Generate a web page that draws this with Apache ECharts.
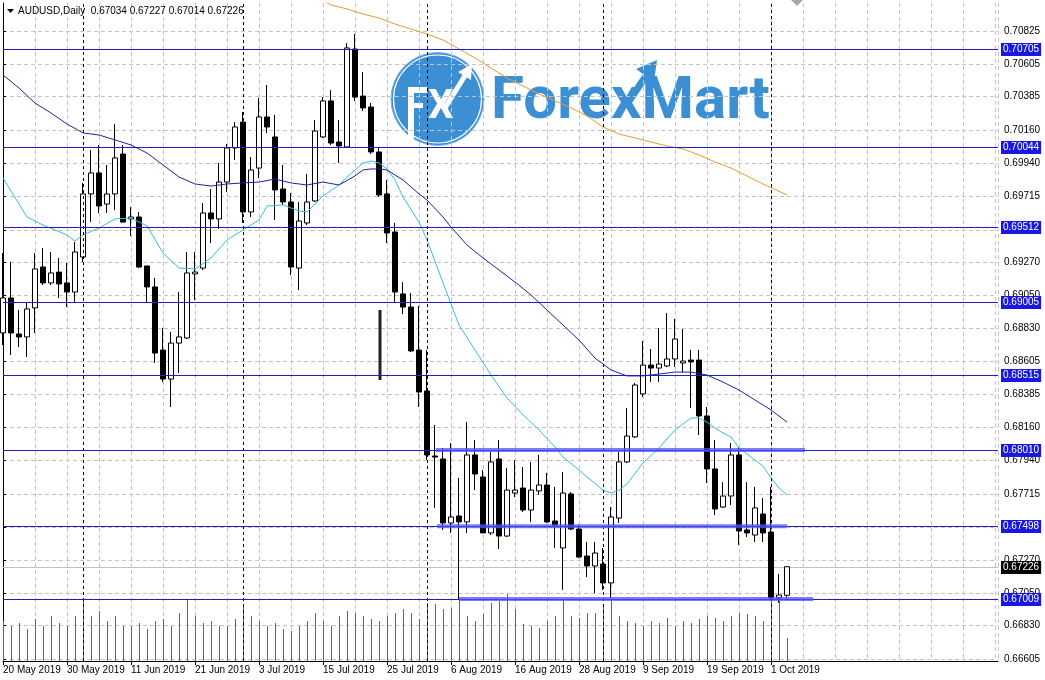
<!DOCTYPE html>
<html><head><meta charset="utf-8">
<script src="https://cdn.jsdelivr.net/npm/echarts@6/dist/echarts.min.js"></script>
<style>html,body{margin:0;padding:0;background:#fff}#c{width:1045px;height:680px}</style>
</head><body><div id="c"></div><script>
// ---- data ----
const symbolTitle = 'AUDUSD,Daily';
const dateLabels = ['20 May 2019','30 May 2019','11 Jun 2019','21 Jun 2019','3 Jul 2019','15 Jul 2019','25 Jul 2019','6 Aug 2019','16 Aug 2019','28 Aug 2019','9 Sep 2019','19 Sep 2019','1 Oct 2019'];
const dateLabelIdx = [0,8,16,24,32,40,48,56,64,72,80,88,96];
const periodStartIdx = [10,30,53,75,96];
const priceTicks = [0.70825,0.70605,0.70385,0.70160,0.69940,0.69715,0.69490,0.69270,0.69050,0.68830,0.68605,0.68385,0.68160,0.67940,0.67715,0.67490,0.67270,0.67050,0.66830,0.66605];
const levelPrices = [0.70705,0.70044,0.69512,0.69005,0.68515,0.68010,0.67498,0.67009];
const trendLevels = [0.68010,0.67498,0.67009];
const trendStart = [54.1,54.25,57.0];
const trendEnd = [100.25,98.0,101.25];

const opens = [0.68797,0.69032,0.68790,0.68770,0.68965,0.69240,0.69133,0.69206,0.69133,0.69072,
0.69307,0.69731,0.69872,0.69663,0.69731,0.69999,0.69563,0.69576,0.69247,0.69106,
0.68682,0.68487,0.68729,0.68763,0.69193,0.69233,0.69603,0.69563,0.69811,0.70040,
0.70214,0.69610,0.69905,0.70248,0.70114,0.69764,0.69677,0.69233,0.69536,0.69684,
0.70114,0.70356,0.70080,0.70047,0.70705,0.70389,0.70315,0.70013,0.69731,0.69475,
0.69059,0.68971,0.68682,0.68407,0.67970,0.67950,0.67520,0.67567,0.67527,0.67977,
0.67829,0.67453,0.67950,0.67432,0.67721,0.67755,0.67607,0.67735,0.67775,0.67533,
0.67352,0.67715,0.67479,0.67298,0.67231,0.67244,0.67117,0.67553,0.67930,0.68098,
0.68387,0.68581,0.68561,0.68575,0.68622,0.68595,0.68615,0.68615,0.68239,0.67883,
0.67627,0.67701,0.67977,0.67473,0.67439,0.67580,0.67459,0.67016,0.67034];
const highs = [0.69334,0.69274,0.68951,0.68998,0.69334,0.69368,0.69341,0.69301,0.69267,0.69408,
0.69805,0.70026,0.70060,0.69926,0.70201,0.70060,0.69643,0.69610,0.69247,0.69166,
0.68830,0.68803,0.69072,0.69341,0.69341,0.69670,0.69764,0.69939,0.70067,0.70214,
0.70282,0.69979,0.70376,0.70463,0.70262,0.69926,0.69737,0.69677,0.69865,0.70228,
0.70382,0.70429,0.70228,0.70745,0.70806,0.70550,0.70342,0.70047,0.69825,0.69536,
0.69139,0.69065,0.68978,0.68682,0.68178,0.68024,0.68057,0.67822,0.68198,0.68077,
0.67876,0.67997,0.68077,0.67889,0.67943,0.67896,0.67930,0.67977,0.67856,0.67762,
0.67862,0.67728,0.67506,0.67392,0.67392,0.67352,0.67627,0.67997,0.68293,0.68461,
0.68743,0.68689,0.68830,0.68931,0.68891,0.68823,0.68682,0.68682,0.68299,0.68077,
0.67795,0.68057,0.68030,0.67795,0.67762,0.67688,0.67762,0.67177,0.67227];
const lows = [0.68716,0.68649,0.68702,0.68635,0.68797,0.69119,0.69119,0.69032,0.68971,0.69005,
0.69274,0.69542,0.69603,0.69603,0.69623,0.69542,0.69448,0.69233,0.68998,0.68595,
0.68467,0.68299,0.68528,0.68756,0.69018,0.69220,0.69401,0.69495,0.69744,0.69959,
0.69536,0.69576,0.69838,0.70141,0.69556,0.69657,0.69186,0.69085,0.69522,0.69677,
0.70107,0.70060,0.69939,0.70040,0.70356,0.70288,0.69999,0.69710,0.69401,0.69005,
0.68924,0.68669,0.68299,0.67943,0.67621,0.67473,0.67453,0.67002,0.67453,0.67741,
0.67453,0.67439,0.67345,0.67426,0.67694,0.67594,0.67527,0.67708,0.67520,0.67352,
0.67070,0.67473,0.67285,0.67157,0.67049,0.67070,0.67016,0.67520,0.67923,0.68091,
0.68366,0.68467,0.68467,0.68568,0.68568,0.68534,0.68293,0.68111,0.67789,0.67573,
0.67621,0.67641,0.67372,0.67426,0.67392,0.67392,0.67002,0.66982,0.67014];
const closes = [0.69032,0.68797,0.68770,0.68958,0.69227,0.69133,0.69200,0.69126,0.69072,0.69341,
0.69731,0.69872,0.69650,0.69731,0.69973,0.69542,0.69576,0.69240,0.69106,0.68662,
0.68487,0.68729,0.68770,0.69200,0.69206,0.69603,0.69563,0.69811,0.70040,0.70181,
0.69610,0.69892,0.70248,0.70181,0.69758,0.69677,0.69240,0.69549,0.69677,0.70154,
0.70356,0.70073,0.70053,0.70712,0.70382,0.70309,0.70013,0.69724,0.69469,0.69072,
0.68971,0.68676,0.68400,0.67977,0.67963,0.67520,0.67560,0.67527,0.67977,0.67849,
0.67453,0.67930,0.67432,0.67741,0.67741,0.67607,0.67741,0.67775,0.67527,0.67506,
0.67721,0.67479,0.67291,0.67231,0.67318,0.67117,0.67560,0.67930,0.68104,0.68447,
0.68581,0.68561,0.68588,0.68622,0.68756,0.68608,0.68602,0.68239,0.67883,0.67614,
0.67701,0.67977,0.67466,0.67453,0.67621,0.67453,0.67016,0.67036,0.67226];
const volumes = [40,35,38,32,42,35,45,38,35,45,
60,45,50,40,45,35,35,38,32,40,
42,35,48,62,45,38,40,35,35,42,
55,45,40,35,38,32,30,35,40,48,
40,35,45,50,48,45,42,40,45,48,
52,48,42,58,57,52,53,62,45,40,
47,58,60,67,52,37,35,33,40,45,
62,45,43,48,48,57,63,45,40,38,
35,40,38,43,35,40,38,42,45,43,
40,45,48,47,45,40,63,60,23];

const maFastIdx = [0,3,5,8,9,10,12,14,16,18,20,22,24,26,28,30,32,33,35,37,38,40,42,43,44,45,46,47,48,49,50,52,53,55,57,59,61,63,65,67,69,70,72,73,75,76,77,78,80,82,84,86,87,88,89,90,91,92,94,95,96,97,98];
const maFastVal = [0.69838,0.69576,0.69522,0.69455,0.69415,0.69455,0.69502,0.69563,0.69569,0.69516,0.69334,0.69233,0.69227,0.69301,0.69422,0.69489,0.69556,0.69650,0.69657,0.69616,0.69610,0.69717,0.69791,0.69845,0.69892,0.69939,0.69952,0.69939,0.69899,0.69825,0.69710,0.69542,0.69422,0.69133,0.68850,0.68682,0.68514,0.68360,0.68246,0.68145,0.68030,0.67963,0.67876,0.67829,0.67741,0.67721,0.67741,0.67782,0.67923,0.68024,0.68145,0.68225,0.68225,0.68198,0.68158,0.68125,0.68098,0.68024,0.67943,0.67903,0.67822,0.67755,0.67708];
const maMidIdx = [0,2,4,6,8,10,12,14,16,18,20,22,24,26,28,30,32,34,36,38,40,42,44,45,46,47,48,50,52,53,55,56,58,60,62,64,66,68,70,72,74,75,76,78,80,82,84,86,88,90,92,94,96,98];
const maMidVal = [0.70530,0.70443,0.70342,0.70275,0.70201,0.70141,0.70127,0.70094,0.70060,0.70006,0.69926,0.69845,0.69798,0.69784,0.69798,0.69805,0.69811,0.69831,0.69805,0.69791,0.69811,0.69791,0.69852,0.69892,0.69899,0.69899,0.69892,0.69825,0.69731,0.69690,0.69576,0.69509,0.69388,0.69301,0.69220,0.69139,0.69052,0.68951,0.68850,0.68749,0.68628,0.68588,0.68548,0.68508,0.68508,0.68521,0.68534,0.68534,0.68514,0.68467,0.68413,0.68346,0.68279,0.68198];
const maSlowIdx = [40,41,43,45,47,49,51,53,55,57,59,61,63,65,67,69,71,73,75,77,79,81,83,85,87,89,91,93,95,98];
const maSlowVal = [0.71030,0.71001,0.70974,0.70940,0.70913,0.70873,0.70839,0.70806,0.70765,0.70705,0.70645,0.70577,0.70510,0.70456,0.70403,0.70356,0.70309,0.70255,0.70181,0.70134,0.70107,0.70080,0.70053,0.70033,0.69993,0.69946,0.69905,0.69852,0.69798,0.69724];
const markerIdx = [47.125,47.125];
const markerVal = [0.68951,0.68481];

// ---- chart ----
const FONT = 'Liberation Sans';
const last = opens.length - 1;
const fmt = v => v.toFixed(5);
const chart = echarts.init(document.getElementById('c'));
const candleData = opens.map((o,i)=>[i,o,closes[i],lows[i],highs[i]]);
const GRID = {left:3, right:47, top:3, bottom:19};
const X0 = GRID.left, X1 = 1045 - GRID.right;

function levelRenderer(lineColor, boxColor){
  return (params, api)=>{
    const y = Math.round(api.coord([0, api.value(0)])[1]);
    return {type:'group', children:[
      {type:'line', shape:{x1:X0, y1:y+0.5, x2:X1, y2:y+0.5}, style:{stroke:lineColor, lineWidth:1}},
      {type:'text', x:X1+3, y:y+0.5, style:{text:fmt(api.value(0)), fill:'#fff', backgroundColor:boxColor,
        padding:[1,2,1,2], font:'10px "Liberation Sans"', lineHeight:11, verticalAlign:'middle', align:'left'}}
    ]};
  };
}

const series = [];
series.push({type:'custom', name:'vol', xAxisIndex:0, yAxisIndex:1, data:volumes.map((v,i)=>[i,v]), z:1, silent:true,
  renderItem:(params, api)=>{
    const top = api.coord([api.value(0), api.value(1)]);
    const base = api.coord([api.value(0), 0]);
    const x = Math.round(top[0]) + 0.5;
    return {type:'line', shape:{x1:x, y1:Math.round(base[1]), x2:x, y2:Math.round(top[1])}, style:{stroke:'#169a16', lineWidth:1}};
  }});
series.push({type:'line', name:'sep', xAxisIndex:0, yAxisIndex:0, data:[], z:2,
  markLine:{symbol:'none', silent:true, animation:false, precision:5, label:{show:false},
    lineStyle:{color:'#000', width:1, type:[3,3]},
    data:periodStartIdx.map(i=>({xAxis:i}))}});
series.push({type:'custom', name:'bid', xAxisIndex:0, yAxisIndex:0, data:[[closes[last]]], z:2, silent:true, clip:false,
  renderItem:levelRenderer('#c0c0c0', '#000000')});
series.push({type:'candlestick', name:'price', xAxisIndex:0, yAxisIndex:0, data:candleData,
  dimensions:['idx','open','close','low','high'], encode:{x:0, y:[1,2,3,4]},
  barWidth:5, itemStyle:{color:'#ffffff', color0:'#000000', borderColor:'#000000', borderColor0:'#000000', borderWidth:1},
  z:3, silent:true});
series.push({type:'line', name:'marker', data:markerIdx.map((x,k)=>[x,markerVal[k]]), symbol:'none',
  lineStyle:{color:'#222', width:3}, z:3, silent:true});
series.push({type:'line', name:'maFast', data:maFastIdx.map((x,k)=>[x,maFastVal[k]]), symbol:'none',
  lineStyle:{color:'#3bbce0', width:1}, z:4, silent:true});
series.push({type:'line', name:'maMid', data:maMidIdx.map((x,k)=>[x,maMidVal[k]]), symbol:'none',
  lineStyle:{color:'#22229e', width:1}, z:4, silent:true});
series.push({type:'line', name:'maSlow', data:maSlowIdx.map((x,k)=>[x,maSlowVal[k]]), symbol:'none',
  lineStyle:{color:'#e89a30', width:1}, z:4, silent:true});
series.push({type:'custom', name:'levels', xAxisIndex:0, yAxisIndex:0, data:levelPrices.map(v=>[v]), z:5, silent:true, clip:false,
  renderItem:levelRenderer('#1e1ec4', '#1818e0')});
trendLevels.forEach((v,k)=>{
  series.push({type:'line', name:'trend'+k, data:[[trendStart[k],v],[trendEnd[k],v]], symbol:'none',
    lineStyle:{color:'rgba(80,80,250,0.75)', width:4}, z:6, silent:true});
});

const title = symbolTitle + '  ' + [opens[last],highs[last],lows[last],closes[last]].map(fmt).join(' ');

chart.setOption({
  animation:false,
  backgroundColor:'#ffffff',
  textStyle:{fontFamily:FONT},
  grid:{left:GRID.left, right:GRID.right, top:GRID.top, bottom:GRID.bottom, containLabel:false},
  xAxis:[
    {type:'value', min:0, max:124.375, position:'bottom',
     axisLine:{show:true, onZero:false, lineStyle:{color:'#000', width:1}},
     axisTick:{show:true, inside:false, length:4, lineStyle:{color:'#000'}, customValues:dateLabelIdx},
     axisLabel:{show:true, customValues:dateLabelIdx, align:'left', margin:4, color:'#000', fontFamily:FONT, fontSize:10,
       formatter:v=>{const k=dateLabelIdx.indexOf(Math.round(v)); return k>=0?dateLabels[k]:'';}},
     splitLine:{show:false}},
    {type:'value', min:0, max:124.375, interval:4, position:'bottom',
     axisLine:{show:false}, axisTick:{show:false}, axisLabel:{show:false},
     splitLine:{show:true, lineStyle:{color:'#c4c4c4', width:1, type:[4,3]}}}
  ],
  yAxis:[
    {type:'value', min:0.6659236, max:0.7101412, position:'right', scale:true,
     axisLine:{show:true, lineStyle:{color:'#000', width:1}},
     axisTick:{show:true, inside:false, length:3, lineStyle:{color:'#000'}, customValues:priceTicks},
     axisLabel:{show:true, customValues:priceTicks, margin:6, color:'#000', fontFamily:FONT, fontSize:10, formatter:v=>fmt(v)},
     splitLine:{show:true, lineStyle:{color:'#c4c4c4', width:1, type:[4,3]}}},
    {type:'value', min:0, max:658, show:false, splitLine:{show:false}}
  ],
  graphic:{elements:[
    {type:'group', z:-10, silent:true, children:[
      {type:'circle', z:-10, shape:{cx:437.5, cy:99, r:46.5}, style:{fill:'#3d8fd4', stroke:'#7fb4e4', lineWidth:1}},
      {type:'circle', z:-10, shape:{cx:437.5, cy:99, r:44}, style:{fill:'none', stroke:'#ffffff', lineWidth:1.2}},
      {type:'rect', z:-9, shape:{x:408, y:87, width:6, height:55}, style:{fill:'#fff'}},
      {type:'rect', z:-9, shape:{x:408, y:87, width:19, height:6}, style:{fill:'#fff'}},
      {type:'rect', z:-9, shape:{x:408, y:103, width:15, height:5}, style:{fill:'#fff'}},
      {type:'text', z:-9, style:{text:'X', x:441, y:108, fill:'#fff', font:'bold 40px Roboto', align:'center', verticalAlign:'middle'}},
      {type:'line', z:-9, shape:{x1:445, y1:108, x2:466, y2:74}, style:{stroke:'#fff', lineWidth:5}},
      {type:'polygon', z:-9, shape:{points:[[472,64],[458,72],[471,80]]}, style:{fill:'#fff'}},
      {type:'text', z:-9, style:{text:'ForexMart', x:491, y:103, fill:'#3d8fd4', font:'bold 60px Roboto', verticalAlign:'middle'}},
      {type:'line', z:-9, shape:{x1:627, y1:104, x2:650, y2:70}, style:{stroke:'#3d8fd4', lineWidth:7}},
      {type:'polygon', z:-9, shape:{points:[[657,60],[636,69],[654,82]]}, style:{fill:'#3d8fd4'}}
    ]},
    {type:'polygon', z:10, silent:true, shape:{points:[[7,9],[14,9],[10.5,13]]}, style:{fill:'#000'}},
    {type:'text', z:10, silent:true, style:{text:title, x:18, y:11, fill:'#000', font:'10px "Liberation Sans"', verticalAlign:'middle'}},
    {type:'polygon', z:10, silent:true, shape:{points:[[791,0],[803,0],[797,6]]}, style:{fill:'#a8a8a8'}}
  ]},
  series:series
});
</script></body></html>
